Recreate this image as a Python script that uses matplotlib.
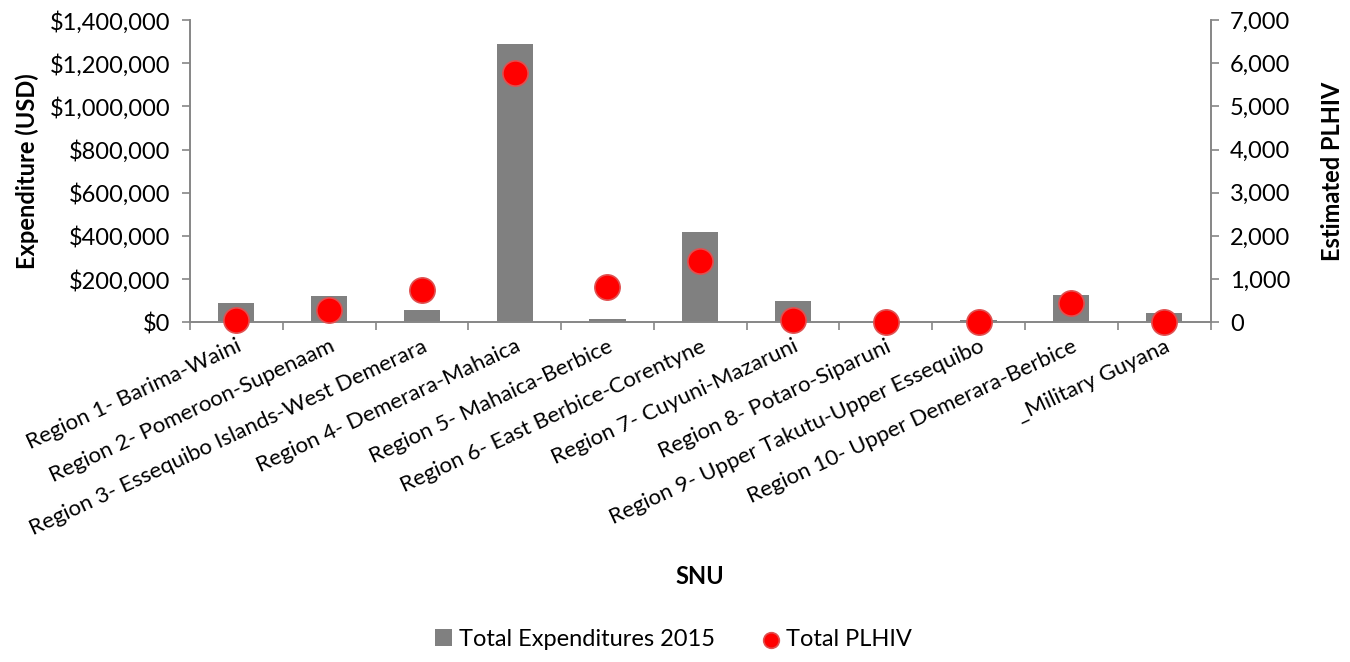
import numpy as np
import matplotlib as mpl
import matplotlib.pyplot as plt
from matplotlib.ticker import FuncFormatter, FixedLocator

mpl.rcParams['font.family'] = ['Lato', 'DejaVu Sans']
mpl.rcParams['font.size'] = 17

# Data
regions = ['Region 1- Barima-Waini', 'Region 2- Pomeroon-Supenaam',
           'Region 3- Essequibo Islands-West Demerara', 'Region 4- Demerara-Mahaica',
           'Region 5- Mahaica-Berbice', 'Region 6- East Berbice-Corentyne',
           'Region 7- Cuyuni-Mazaruni', 'Region 8- Potaro-Siparuni',
           'Region 9- Upper Takutu-Upper Essequibo', 'Region 10- Upper Demerara-Berbice',
           '_Military Guyana']
expenditure = [89000, 122000, 55000, 1290000, 15000, 420000, 100000, 1000, 9000, 128000, 42000]
plhiv = [50, 290, 760, 5780, 815, 1415, 50, 15, 15, 455, 0]

grey = '#808080'
axis_col = '#868686'

fig = plt.figure(figsize=(13.5, 6.62), dpi=100)
ax = fig.add_axes([0.1407, 0.5131, 0.756, 0.4566])
x = np.arange(len(regions))
ax.bar(x, expenditure, width=0.39, color=grey, label='Total Expenditures 2015', zorder=2)
ax.set_xlim(-0.5, len(regions) - 0.5)
ax.set_ylim(0, 1400000)
ax.yaxis.set_major_locator(FixedLocator(np.arange(0, 1400001, 200000)))
ax.yaxis.set_major_formatter(FuncFormatter(lambda v, p: '${:,.0f}'.format(v)))
ax.set_ylabel('Expenditure (USD)', fontweight='bold', labelpad=8)
ax.set_xlabel('SNU', fontweight='bold', labelpad=19)

ax.set_xticks(x)
ax.set_xticklabels(regions, rotation=25, ha='right', rotation_mode='anchor', fontsize=16)
ax.tick_params(axis='x', length=0, pad=10)
ax.set_xticks(np.arange(-0.5, len(regions)), minor=True)
ax.tick_params(axis='x', which='minor', length=6, color=axis_col, width=1.2)
ax.tick_params(axis='y', length=6, color=axis_col, width=1.2, pad=8)

ax2 = ax.twinx()
ax2.scatter(x, plhiv, s=330, color='#ff0000', edgecolors='#e05050', linewidths=1.2,
            label='Total PLHIV', zorder=3, clip_on=False)
ax2.set_ylim(0, 7000)
ax2.yaxis.set_major_locator(FixedLocator(np.arange(0, 7001, 1000)))
ax2.yaxis.set_major_formatter(FuncFormatter(lambda v, p: '{:,.0f}'.format(v)))
ax2.set_ylabel('Estimated PLHIV', fontweight='bold', labelpad=22)
ax2.tick_params(axis='y', length=6, color=axis_col, width=1.2, pad=8)

for a in (ax, ax2):
    a.spines['top'].set_visible(False)
    for s in ('left', 'right', 'bottom'):
        a.spines[s].set_color(axis_col)
        a.spines[s].set_linewidth(1.2)

h1, l1 = ax.get_legend_handles_labels()
h2, l2 = ax2.get_legend_handles_labels()
fig.legend(h1 + h2, l1 + l2, loc='center', bbox_to_anchor=(0.499, 0.034), ncol=2,
           frameon=False, fontsize=17, handlelength=0.7, handletextpad=0.3,
           columnspacing=2.0, markerscale=0.62)

fig.savefig('out.png', dpi=100)
